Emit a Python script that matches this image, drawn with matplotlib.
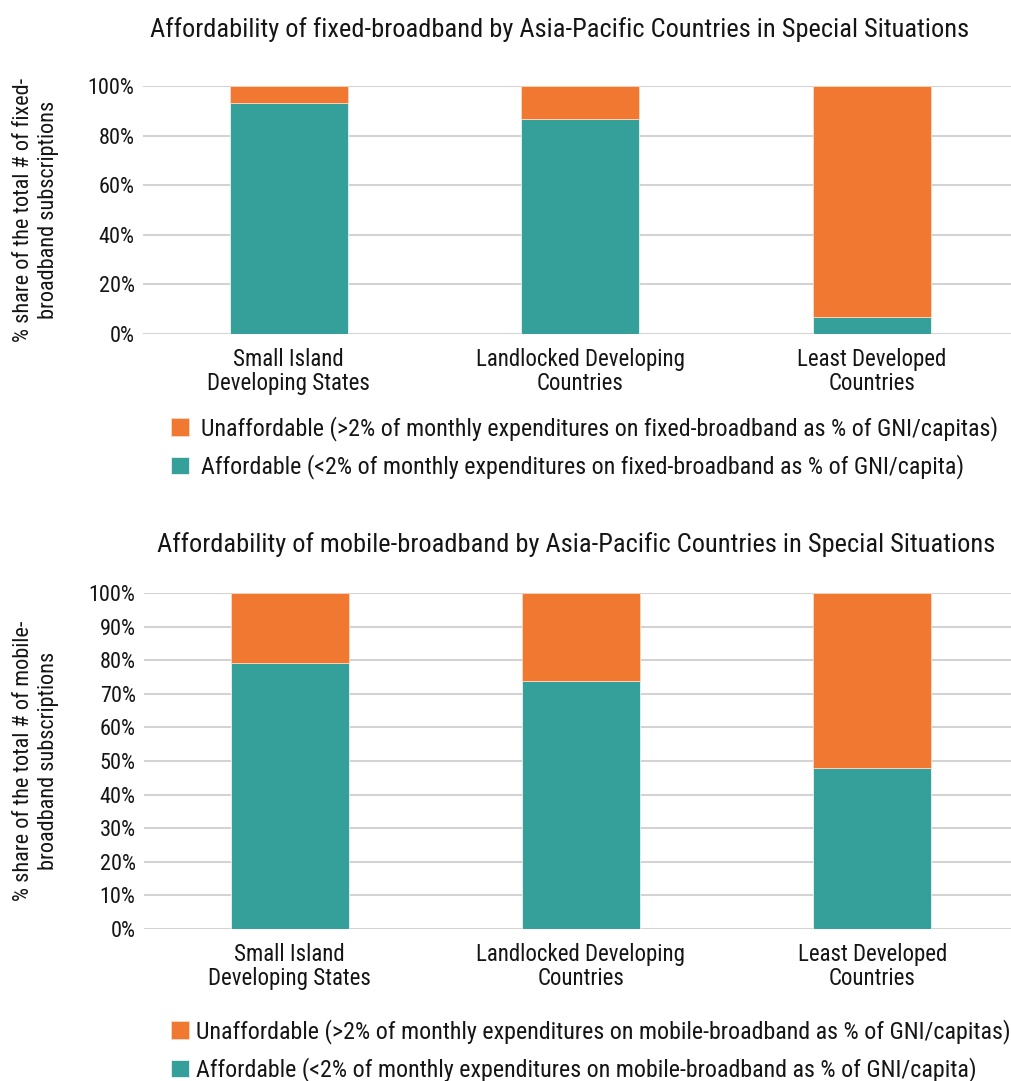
import numpy as np
import matplotlib.pyplot as plt
from matplotlib.ticker import PercentFormatter

plt.rcParams['font.family'] = ['Roboto Condensed', 'Roboto', 'DejaVu Sans']

# data
categories = ['Small Island\nDeveloping States', 'Landlocked Developing\nCountries', 'Least Developed\nCountries']
fixedAffordable = [93.1, 86.7, 7.0]
mobileAffordable = [79.3, 73.9, 47.9]

fixedLabels = ['Unaffordable (>2% of monthly expenditures on fixed-broadband as % of GNI/capitas)',
               'Affordable (<2% of monthly expenditures on fixed-broadband as % of GNI/capita)']
mobileLabels = ['Unaffordable (>2% of monthly expenditures on mobile-broadband as % of GNI/capitas)',
                'Affordable (<2% of monthly expenditures on mobile-broadband as % of GNI/capita)']

fixedTitle = 'Affordability of fixed-broadband by Asia-Pacific Countries in Special Situations'
mobileTitle = 'Affordability of mobile-broadband by Asia-Pacific Countries in Special Situations'
fixedYLabel = '% share of the total # of fixed-\nbroadband subscriptions'
mobileYLabel = '% share of the total # of mobile-\nbroadband subscriptions'

orange = '#F17830'
teal = '#35A099'
textCol = '#151515'

W, H = 1012, 1081
fig = plt.figure(figsize=(W / 100, H / 100), dpi=100)


def makePanel(rect, affordable, labels, title, ylabel, yticks, titleXY, legXY, yLabelX, textPad):
    ax = fig.add_axes(rect)
    x = np.arange(len(categories))
    aff = np.asarray(affordable)
    unaff = 100 - aff
    b1 = ax.bar(x, aff, width=0.405, color=teal, edgecolor='#E8F4F3', linewidth=0.6, zorder=3)
    b2 = ax.bar(x, unaff, bottom=aff, width=0.405, color=orange, edgecolor='#FAD9C4', linewidth=0.6, zorder=3)
    ax.set_xlim(-0.5, 2.48)
    ax.set_ylim(0, 100)
    ax.set_yticks(yticks)
    ax.yaxis.set_major_formatter(PercentFormatter(decimals=0))
    ax.set_xticks(x)
    ax.set_xticklabels(categories, linespacing=1.08)
    ax.tick_params(axis='both', length=0, labelsize=16, colors=textCol)
    ax.tick_params(axis='x', labelsize=16.5, pad=10)
    ax.tick_params(axis='y', pad=6)
    ax.grid(axis='y', color='#D3D3D3', linewidth=1.5, zorder=0)
    for s in ax.spines.values():
        s.set_visible(False)
    fig.text(titleXY[0] / W, 1 - titleXY[1] / H, title, ha='center', va='center', fontsize=19, color=textCol)
    fig.text(yLabelX / W, rect[1] + rect[3] / 2, ylabel, rotation=90, ha='center', va='center',
             fontsize=16, color=textCol, linespacing=1.3)
    fig.legend([b2, b1], labels, loc='upper left', bbox_to_anchor=(legXY[0] / W, 1 - legXY[1] / H),
               frameon=False, fontsize=17.3, handlelength=0.75, handleheight=0.75, handletextpad=textPad,
               labelspacing=0.56, borderpad=0, borderaxespad=0, labelcolor=textCol)
    return ax


# axes rects from pixel positions
makePanel([143 / W, 1 - 334 / H, (1012 - 143) / W, (334 - 86) / H], fixedAffordable, fixedLabels, fixedTitle,
          fixedYLabel, np.arange(0, 101, 20), (560, 30), (171, 416), 36, 0.5)
makePanel([144 / W, 1 - 929 / H, (1012 - 144) / W, (929 - 593) / H], mobileAffordable, mobileLabels, mobileTitle,
          mobileYLabel, np.arange(0, 101, 10), (576, 545), (171, 1019), 36, 0.3)

fig.savefig('out.png', dpi=100)
